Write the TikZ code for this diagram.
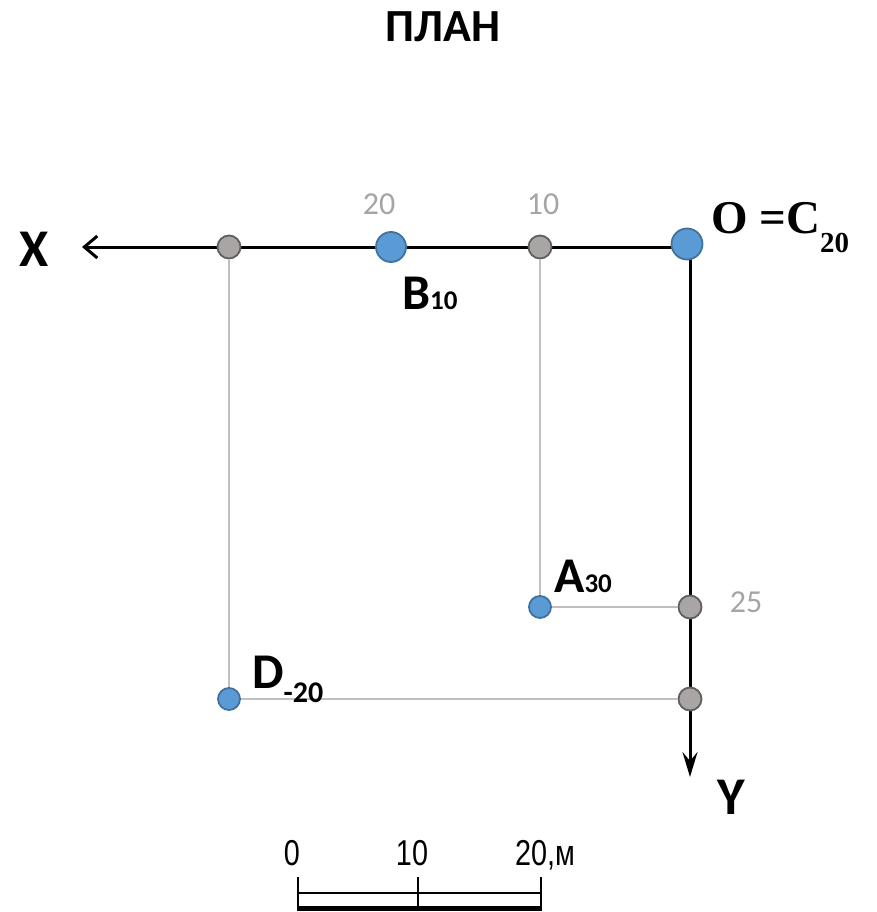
\documentclass[tikz,border=0pt]{standalone}
\usepackage{fontspec}
\setmainfont{Carlito}
\newfontfamily\tnr{Liberation Serif}
\newfontfamily\arialn[FakeStretch=0.8]{Liberation Sans}
\usetikzlibrary{arrows.meta}
\definecolor{ptblue}{RGB}{91,155,213}
\definecolor{ptblueline}{RGB}{65,113,156}
\definecolor{ptgray}{RGB}{168,165,164}
\definecolor{ptgrayline}{RGB}{95,95,95}
\definecolor{thingray}{RGB}{192,192,192}
\definecolor{lblgray}{RGB}{165,165,165}
\newcommand{\fs}[1]{\fontsize{#1}{#1}\selectfont}
\begin{document}
\begin{tikzpicture}[x=1pt,y=-1pt,
  bluept/.style={circle,fill=ptblue,draw=ptblueline,line width=1.8pt,inner sep=0pt},
  graypt/.style={circle,fill=ptgray,draw=ptgrayline,line width=1.8pt,inner sep=0pt,minimum size=23pt},
  axisline/.style={line width=3pt,black},
  thinline/.style={line width=2pt,thingray},
  graylbl/.style={text=lblgray,font=\fs{32},inner sep=0pt},
  bigbold/.style={font=\fs{53}\bfseries,inner sep=0pt},
  scalelbl/.style={font=\arialn\fs{36},inner sep=0pt,anchor=base}]
\useasboundingbox (0,0) rectangle (876,912);
% title
\node[font=\fs{46}\bfseries,inner sep=0pt] (title) at (443,27) {ПЛАН};
% axes
\coordinate (orig) at (690,247);
\coordinate (xend) at (82,247);
\coordinate (yend) at (690,777);
\draw[axisline,-{Straight Barb[length=13pt,width=22pt,line width=3pt]}] (orig) -- (xend);
\draw[axisline,-{Stealth[length=25pt,width=15pt,inset=9pt]}] (orig) -- (yend);
% points
\node[graypt] (g1) at (229,247) {};
\node[graypt] (g2) at (540,247) {};
\node[graypt] (g3) at (690,607) {};
\node[graypt] (g4) at (690,699) {};
\node[bluept,minimum size=22pt] (A) at (540,607) {};
\node[bluept,minimum size=22pt] (D) at (229,699) {};
\node[bluept,minimum size=30pt] (B) at (391,247) {};
\node[bluept,minimum size=31pt] (O) at (687,244) {};
% thin lines
\draw[thinline] (g1) -- (D);
\draw[thinline] (D) -- (g4);
\draw[thinline] (g2) -- (A);
\draw[thinline] (A) -- (g3);
% gray labels
\node[graylbl] (l20) at (379,204) {20};
\node[graylbl] (l10) at (543,204) {10};
\node[graylbl] (l25) at (746,602) {25};
% axis labels
\node[bigbold] (X) at (34,249) {X};
\node[bigbold] (Y) at (731,797) {Y};
% point labels
\node[inner sep=0pt,anchor=base west] (Blbl) at (402,309) {\bfseries\fs{50}B\fs{27}10};
\node[inner sep=0pt,anchor=base west] (Albl) at (554,592) {\bfseries\fs{50}A\fs{27}30};
\node[inner sep=0pt,anchor=base west] (Dlbl) at (252,688) {\bfseries\fs{50}D\raisebox{-14pt}{\fs{30}-20}};
\node[inner sep=0pt,anchor=base west] (Olbl) at (711,233) {\tnr\bfseries\fs{47}O =C\raisebox{-20pt}{\fs{29}20}};
% scale bar
\draw[line width=2pt] (298,877) -- (298,910);
\draw[line width=2pt] (418,877) -- (418,910);
\draw[line width=2pt] (541,877) -- (541,910);
\draw[line width=1.6pt] (298,893) -- (541,893);
\draw[line width=5pt] (297,908) -- (542,908);
\node[scalelbl] (s0) at (292,865) {0};
\node[scalelbl] (s10) at (412,865) {10};
\node[scalelbl,anchor=base west] (s20) at (515,865) {20,м};
\end{tikzpicture}
\end{document}
